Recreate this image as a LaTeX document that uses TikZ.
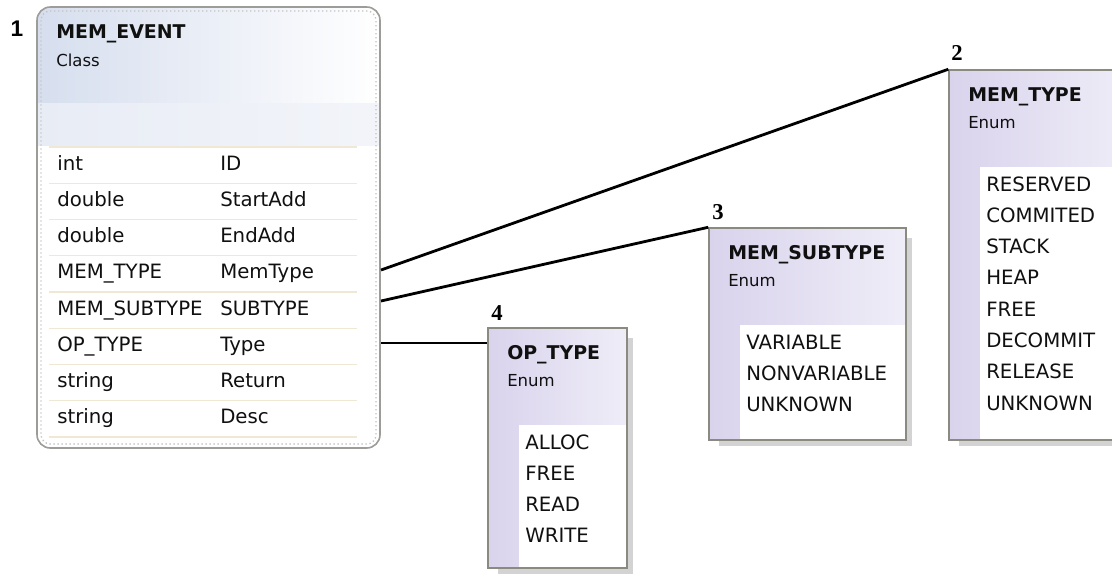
\documentclass[tikz,border=0pt]{standalone}
\usepackage{fontspec}
\setmainfont{DejaVu Sans}
\newfontfamily\tagserif{Liberation Serif}
\newfontfamily\tagsans{Liberation Sans}
\usetikzlibrary{fit}

\definecolor{ink}{HTML}{101010}
\definecolor{evtop}{HTML}{D6DEEE}
\definecolor{evband}{HTML}{E8ECF5}
\definecolor{evline}{HTML}{EFE8D4}
\definecolor{evborder}{HTML}{9C9C98}
\definecolor{evdots}{HTML}{C2C2C2}
\definecolor{lavdark}{HTML}{D9D3EC}
\definecolor{lavlight}{HTML}{EFEDF8}
\definecolor{enumborder}{HTML}{8A8A80}
\definecolor{shadowc}{HTML}{D3D3D3}

\begin{document}
\begin{tikzpicture}[x=0.75pt, y=-0.75pt,
  hdr/.style={anchor=base west, inner sep=0pt, text=ink, font=\fontsize{14.2}{16}\selectfont\bfseries},
  kind/.style={anchor=base west, inner sep=0pt, text=ink, font=\fontsize{12.4}{14}\selectfont},
  entry/.style={anchor=base west, inner sep=0pt, text=ink, font=\fontsize{14.8}{17}\selectfont},
  numtag/.style={anchor=center, inner sep=0pt, text=black, font=\tagserif\bfseries\fontsize{17}{19}\selectfont},
  enumbox/.style={inner sep=0pt, draw=enumborder, line width=1.1pt, left color=lavdark, right color=lavlight},
  panel/.style={fill=white},
  dropshade/.style={fill=shadowc},
  link/.style={draw=black, line width=2.1pt}
]
\useasboundingbox (0,0) rectangle (1112,578);
\clip (0,0) rectangle (1112,578);
\fill[white] (0,0) rectangle (1112,578);

% ---------- class MEM_EVENT ----------
\begin{scope}
  \clip[rounded corners=10pt] (37,7) rectangle (380,448);
  \shade[left color=evtop, right color=white] (37,7) rectangle (380,103);
  \shade[left color=evband, right color=evband!55!white] (37,103) rectangle (380,145);
\end{scope}
\foreach \k in {0,...,8}
  \draw[evline, line width=1pt] (49,{147+36.25*\k}) -- (357,{147+36.25*\k});
\draw[evdots, line width=1pt, dotted, rounded corners=7pt] (41,11) rectangle (376,444);
\node[fit={(37,7) (380,448)}, inner sep=0pt, draw=evborder, line width=1.2pt, rounded corners=10pt] (ev) {};

\node[hdr] (evTitle) at (56,38) {MEM\_EVENT};
\node[kind] (evKind) at (56,66) {Class};
\foreach \ty/\nm [count=\i from 0] in {int/ID, double/StartAdd, double/EndAdd,
    MEM\_TYPE/MemType, MEM\_SUBTYPE/SUBTYPE, OP\_TYPE/Type, string/Return, string/Desc}{
  \node[entry] (evty\i) at (57,{170+36.25*\i}) {\ty};
  \node[entry] (evnm\i) at (220,{170+36.25*\i}) {\nm};
}
\node[anchor=center, inner sep=0pt, font=\tagsans\bfseries\fontsize{17}{19}\selectfont] (tag1) at (17,29) {1};

% ---------- enum MEM_TYPE ----------
\fill[dropshade] (959,80) rectangle (1136,446);
\node[enumbox, fit={(949,70) (1130,440)}] (mt) {};
\fill[panel] (980,167) rectangle (1129,439);
\node[hdr] (mtTitle) at (968,101) {MEM\_TYPE};
\node[kind] (mtKind) at (968,128) {Enum};
\foreach \t [count=\i from 0] in {RESERVED, COMMITED, STACK, HEAP, FREE, DECOMMIT, RELEASE, UNKNOWN}
  \node[entry] (mt\i) at (986,{191+31.3*\i}) {\t};
\node[numtag] (tag2) at (957,53) {2};

% ---------- enum MEM_SUBTYPE ----------
\fill[dropshade] (719,238) rectangle (912,446);
\node[enumbox, fit={(709,228) (906,440)}] (st) {};
\fill[panel] (740,325) rectangle (905,439);
\node[hdr] (stTitle) at (728,259) {MEM\_SUBTYPE};
\node[kind] (stKind) at (728,286) {Enum};
\foreach \t [count=\i from 0] in {VARIABLE, NONVARIABLE, UNKNOWN}
  \node[entry] (st\i) at (746,{349+31.3*\i}) {\t};
\node[numtag] (tag3) at (718,212) {3};

% ---------- enum OP_TYPE ----------
\fill[dropshade] (498,338) rectangle (633,574);
\node[enumbox, fit={(488,328) (627,568)}] (op) {};
\fill[panel] (519,425) rectangle (626,567);
\node[hdr] (opTitle) at (507,359) {OP\_TYPE};
\node[kind] (opKind) at (507,386) {Enum};
\foreach \t [count=\i from 0] in {ALLOC, FREE, READ, WRITE}
  \node[entry] (op\i) at (525,{449+31.3*\i}) {\t};
\node[numtag] (tag4) at (497,313) {4};

% ---------- associations ----------
\coordinate (evA) at (381,270);
\coordinate (evB) at (381,301);
\coordinate (evC) at (381,343);
\draw[link] (evA) -- (mt.north west);
\draw[link] (evB) -- (st.north west);
\draw[link] (evC) -- (op.west |- evC);
\end{tikzpicture}
\end{document}
